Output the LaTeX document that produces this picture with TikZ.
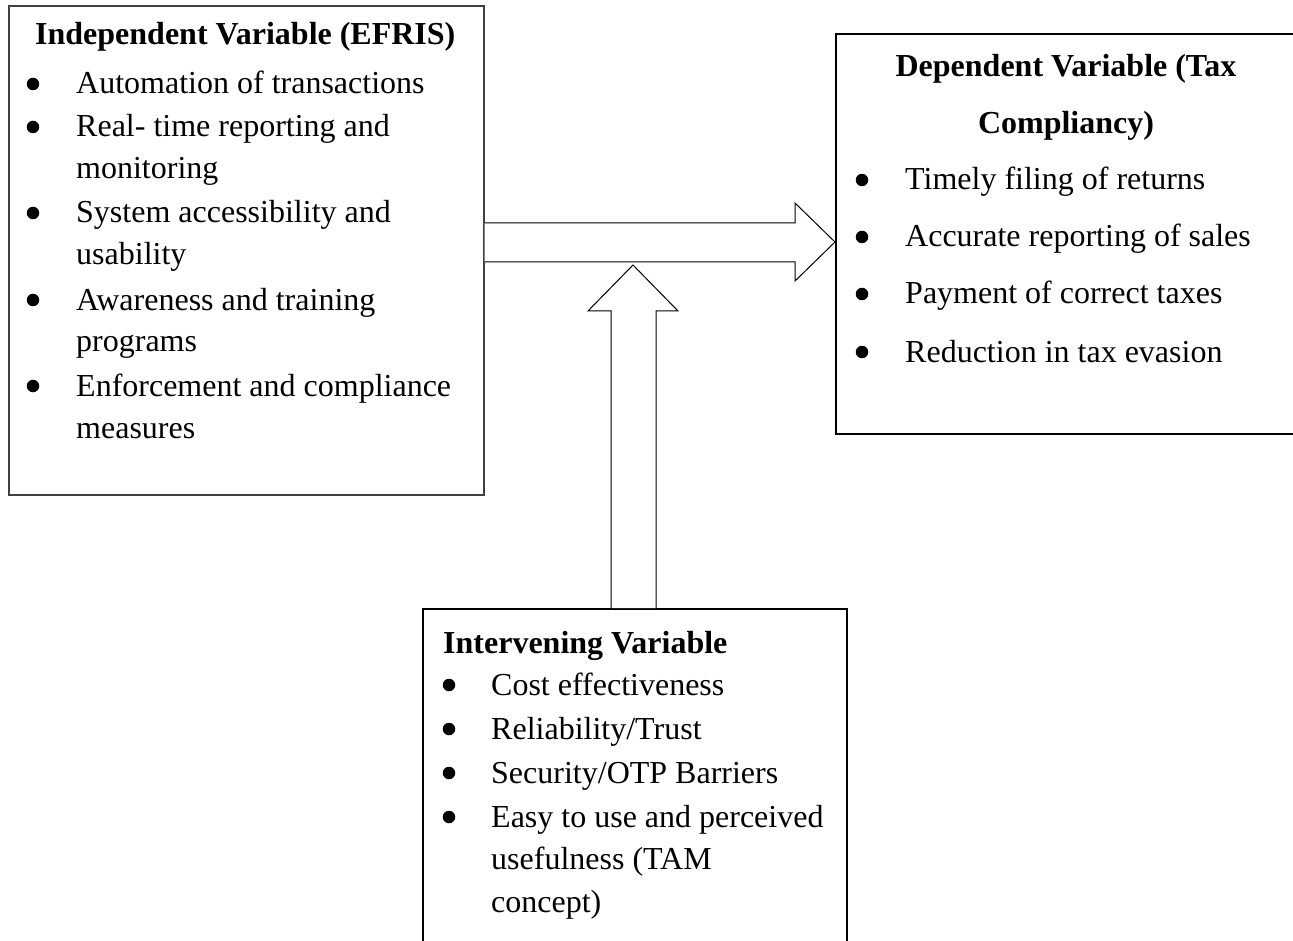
\documentclass[tikz,border=0pt]{standalone}
\usepackage{fontspec}
\setmainfont{Liberation Serif}
\usetikzlibrary{calc}
\tikzset{
  box/.style={draw=black, line width=1.6pt, rectangle, inner sep=0pt, anchor=north west},
  txt/.style={anchor=base west, inner sep=0pt, font=\fontsize{32}{40}\selectfont},
  ttl/.style={anchor=base west, inner sep=0pt, font=\fontsize{32}{40}\selectfont\bfseries},
  ctitle/.style={anchor=base, inner sep=0pt, font=\fontsize{32}{40}\selectfont\bfseries},
  bul/.style={circle, fill=black, inner sep=0pt, minimum size=12.5pt, yshift=10pt},
  blockarrow/.style={draw=black, line width=1pt, line join=miter, fill=white}
}
\begin{document}
\begin{tikzpicture}[x=1pt,y=-1pt]
\useasboundingbox (0,0) rectangle (1293,941);
\clip (0,0) rectangle (1293,941);
% boxes
\node[box, draw=black!75, minimum width=475pt, minimum height=489pt] (b1) at (8,5) {};
\node[box, line width=2pt, minimum width=462pt, minimum height=400pt] (b2) at (835,33) {};
\node[box, line width=2pt, minimum width=424pt, minimum height=360pt] (b3) at (422,608) {};
% box 1 text
\node[ttl] (t1) at (35,45) {Independent Variable (EFRIS)};
\node[bul] (p1) at (33,94) {};
\node[txt] (a1) at (76,94) {Automation of transactions};
\node[bul] (p2) at (33,137) {};
\node[txt] (a2) at (76,137) {Real- time reporting and};
\node[txt] (a3) at (76,179) {monitoring};
\node[bul] (p3) at (33,223) {};
\node[txt] (a4) at (76,223) {System accessibility and};
\node[txt] (a5) at (76,265) {usability};
\node[bul] (p4) at (33,310) {};
\node[txt] (a6) at (76,310) {Awareness and training};
\node[txt] (a7) at (76,352) {programs};
\node[bul] (p5) at (33,396) {};
\node[txt] (a8) at (76,396) {Enforcement and compliance};
\node[txt] (a9) at (76,438) {measures};
% box 2 text
\node[ctitle] (t2a) at (1066,77) {Dependent Variable (Tax};
\node[ctitle] (t2b) at (1066,134) {Compliancy)};
\node[bul] (q1) at (862,190) {};
\node[txt] (c1) at (905,190) {Timely filing of returns};
\node[bul] (q2) at (862,247) {};
\node[txt] (c2) at (905,247) {Accurate reporting of sales};
\node[bul] (q3) at (862,304) {};
\node[txt] (c3) at (905,304) {Payment of correct taxes};
\node[bul] (q4) at (862,362) {};
\node[txt] (c4) at (905,362) {Reduction in tax evasion};
% box 3 text
\node[ttl] (t3) at (443,653) {Intervening Variable};
\node[bul] (r1) at (449,695) {};
\node[txt] (d1) at (491,695) {Cost effectiveness};
\node[bul] (r2) at (449,739) {};
\node[txt] (d2) at (491,739) {Reliability/Trust};
\node[bul] (r3) at (449,783) {};
\node[txt] (d3) at (491,783) {Security/OTP Barriers};
\node[bul] (r4) at (449,827) {};
\node[txt] (d4) at (491,827) {Easy to use and perceived};
\node[txt] (d5) at (491,869) {usefulness (TAM};
\node[txt] (d6) at (491,912) {concept)};
% horizontal block arrow from b1 to b2
\coordinate (htip) at (b2.west |- 0,242);
\draw[blockarrow] (b1.east |- 0,223) -- (795,223) -- (795,203) -- (htip)
  -- (795,281) -- (795,262) -- (b1.east |- 0,262);
% vertical block arrow from b3 upward
\coordinate (vtip) at (633,265);
\draw[blockarrow] (b3.north -| 611,0) -- (611,311) -- (588,311) -- (vtip)
  -- (678,311) -- (656,311) -- (b3.north -| 656,0);
\end{tikzpicture}
\end{document}
